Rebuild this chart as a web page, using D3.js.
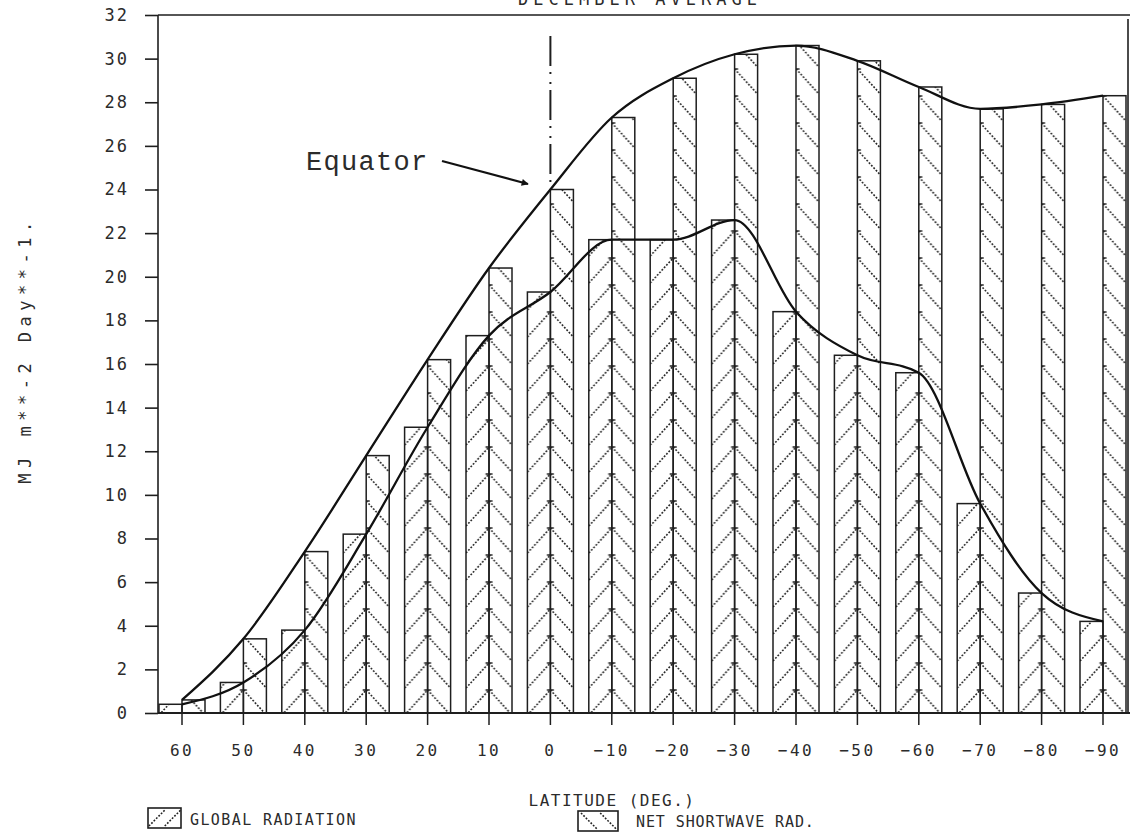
<!DOCTYPE html>
<html><head><meta charset="utf-8">
<script src="https://cdn.jsdelivr.net/npm/d3@7"></script>
<style>
body{margin:0;background:#fff}
svg{display:block}
text{font-family:"DejaVu Sans Mono",monospace;fill:#2b2b2b}
</style>
</head><body>
<svg id="chart" width="1134" height="835"></svg>
<script>
// ---- data ----
const latitudes = ["60","50","40","30","20","10","0","-10","-20","-30","-40","-50","-60","-70","-80","-90"];
const latitudeLabels = ["60","50","40","30","20","10","0","\u221210","\u221220","\u221230","\u221240","\u221250","\u221260","\u221270","\u221280","\u221290"];
const globalRadiation = [0.4,1.4,3.8,8.2,13.1,17.3,19.3,21.7,21.7,22.6,18.4,16.4,15.6,9.6,5.5,4.2];
const netShortwave   = [0.6,3.4,7.4,11.8,16.2,20.4,24.0,27.3,29.1,30.2,30.6,29.9,28.7,27.7,27.9,28.3];
const yTicks = [0,2,4,6,8,10,12,14,16,18,20,22,24,26,28,30,32];
const yTickLabels = ["0","2","4","6","8","10","12","14","16","18","20","22","24","26","28","30","32"];
const titleText = "DECEMBER  AVERAGE";
const yAxisTitle = "MJ m**-2 Day**-1.";
const xAxisTitle = "LATITUDE (DEG.)";
const seriesNames = ["GLOBAL RADIATION","NET SHORTWAVE RAD."];
const equatorLabel = "Equator";

// ---- layout ----
const svg = d3.select("#chart");
const axisX = 158, rightX = 1128, topY = 15, baseY = 713;
const x = d3.scaleBand().domain(latitudes).range([151.3, 1133.7]).padding(0);
const step = x.step();
const cx = d => x(d) + x.bandwidth()/2;
const bw = 23;
const y = d3.scaleLinear().domain([0,32]).range([baseY, topY]);
const ink = "#1e1e1e";

// pattern (chevron hatch: "/" in left bars, "\" in right bars)
const defs = svg.append("defs");
const P = 27;
const pat = defs.append("pattern").attr("id","hatch").attr("patternUnits","userSpaceOnUse")
  .attr("x", cx(latitudes[0]) - bw).attr("y", baseY - 24)
  .attr("width", step).attr("height", P);
const hs = {stroke:"#222","stroke-width":1.6,"stroke-dasharray":"1.8,1.6",fill:"none"};
function sty(sel){Object.entries(hs).forEach(([k,v])=>sel.attr(k,v));return sel;}
sty(pat.append("line").attr("x1",0).attr("y1",P-1).attr("x2",bw).attr("y2",1));
sty(pat.append("line").attr("x1",bw).attr("y1",1).attr("x2",2*bw).attr("y2",P-1));
pat.append("line").attr("x1",bw-3.5).attr("x2",bw+3.5).attr("y1",1).attr("y2",1).attr("stroke","#222").attr("stroke-width",1.5);

// partially visible title at the very top (cut off in the original scan as well)
svg.append("text").attr("x",640).attr("y",5).attr("text-anchor","middle")
  .attr("font-size",17).attr("letter-spacing",5).text(titleText);

// frame
svg.append("line").attr("x1",axisX).attr("x2",rightX+2).attr("y1",topY).attr("y2",topY).attr("stroke",ink).attr("stroke-width",1.6);
svg.append("line").attr("x1",rightX).attr("x2",rightX).attr("y1",topY+4).attr("y2",baseY).attr("stroke",ink).attr("stroke-width",1.6);

// bars
const data = latitudes.map((d,i)=>({lat:d, g:globalRadiation[i], n:netShortwave[i]}));
const bars = svg.append("g");
bars.selectAll("rect.g").data(data).join("rect").attr("class","g")
  .attr("x", d=>cx(d.lat)-bw).attr("width", bw)
  .attr("y", d=>y(d.g)).attr("height", d=>baseY - y(d.g))
  .attr("fill","url(#hatch)").attr("stroke",ink).attr("stroke-width",1.5);
bars.selectAll("rect.n").data(data).join("rect").attr("class","n")
  .attr("x", d=>cx(d.lat)).attr("width", bw)
  .attr("y", d=>y(d.n)).attr("height", d=>baseY - y(d.n))
  .attr("fill","url(#hatch)").attr("stroke",ink).attr("stroke-width",1.5);

// equator dash-dot line
svg.append("line").attr("x1",cx("0")).attr("x2",cx("0")).attr("y1",36).attr("y2",y(netShortwave[6]))
  .attr("stroke",ink).attr("stroke-width",2).attr("stroke-dasharray","30,6,2,8,2,6");

// curves
const line = d3.line().x(d=>cx(d.lat)).curve(d3.curveMonotoneX);
svg.append("path").datum(data).attr("d", line.y(d=>y(d.n))).attr("fill","none").attr("stroke","#111").attr("stroke-width",2.3);
svg.append("path").datum(data).attr("d", line.y(d=>y(d.g))).attr("fill","none").attr("stroke","#111").attr("stroke-width",2.3);

// axes
const yAxis = d3.axisLeft(y).tickValues(yTicks).tickFormat((d,i)=>yTickLabels[i]).tickSize(13).tickPadding(16);
const gy = svg.append("g").attr("transform",`translate(${axisX},0)`).call(yAxis);
gy.select(".domain").remove();
svg.append("line").attr("x1",axisX).attr("x2",axisX).attr("y1",topY).attr("y2",baseY).attr("stroke",ink).attr("stroke-width",1.6);
gy.selectAll(".tick line").attr("stroke",ink).attr("stroke-width",1.6);
gy.selectAll(".tick text").attr("font-size",17).attr("letter-spacing",2).attr("fill","#2b2b2b").style("font-family","DejaVu Sans Mono");

const xAxis = d3.axisBottom(x).tickFormat((d,i)=>latitudeLabels[i]).tickSize(12).tickPadding(20);
const gx = svg.append("g").attr("transform",`translate(0,${baseY})`).call(xAxis);
gx.select(".domain").remove();
svg.append("line").attr("x1",axisX).attr("x2",rightX+2).attr("y1",baseY).attr("y2",baseY).attr("stroke",ink).attr("stroke-width",1.8);
gx.selectAll(".tick line").attr("stroke",ink).attr("stroke-width",1.5);
gx.selectAll(".tick text").attr("font-size",16).attr("letter-spacing",2.5).attr("fill","#2b2b2b").style("font-family","DejaVu Sans Mono");

// axis titles
svg.append("text").attr("transform","translate(31,350) rotate(-90)").attr("text-anchor","middle")
  .attr("font-size",17).attr("letter-spacing",5.5).text(yAxisTitle);
svg.append("text").attr("x",612).attr("y",806).attr("text-anchor","middle")
  .attr("font-size",16).attr("letter-spacing",1.5).text(xAxisTitle);

// legend
function legendBox(x0,y0,w,h,dir){
  svg.append("rect").attr("x",x0).attr("y",y0).attr("width",w).attr("height",h).attr("fill","none").attr("stroke",ink).attr("stroke-width",1.6);
  [0.3,0.78].forEach(f=>{
    const xm = x0 + w*f;
    const l = svg.append("line");
    if(dir>0){ l.attr("x1",xm-9).attr("y1",y0+h-2).attr("x2",xm+7).attr("y2",y0+2); }
    else { l.attr("x1",xm-9).attr("y1",y0+2).attr("x2",xm+7).attr("y2",y0+h-2); }
    sty(l);
  });
}
legendBox(148,808,33,20,1);
svg.append("text").attr("x",190).attr("y",825).attr("font-size",15).attr("letter-spacing",1.4).text(seriesNames[0]);
legendBox(578,811,40,20,-1);
svg.append("text").attr("x",636).attr("y",827).attr("font-size",15).attr("letter-spacing",0.9).text(seriesNames[1]);

// equator annotation
svg.append("text").attr("x",306).attr("y",170).attr("font-size",27).attr("letter-spacing",1.3)
  .style("font-family","'Liberation Mono',monospace").attr("fill","#1e1e1e").text(equatorLabel);
defs.append("marker").attr("id","arr").attr("viewBox","0 0 10 10").attr("refX",9).attr("refY",5)
  .attr("markerWidth",9).attr("markerHeight",7).attr("orient","auto").attr("markerUnits","userSpaceOnUse")
  .append("path").attr("d","M0,0L10,5L0,10z").attr("fill","#111");
svg.append("line").attr("x1",442).attr("y1",161).attr("x2",528).attr("y2",184)
  .attr("stroke","#111").attr("stroke-width",2.2).attr("marker-end","url(#arr)");
</script>
</body></html>
